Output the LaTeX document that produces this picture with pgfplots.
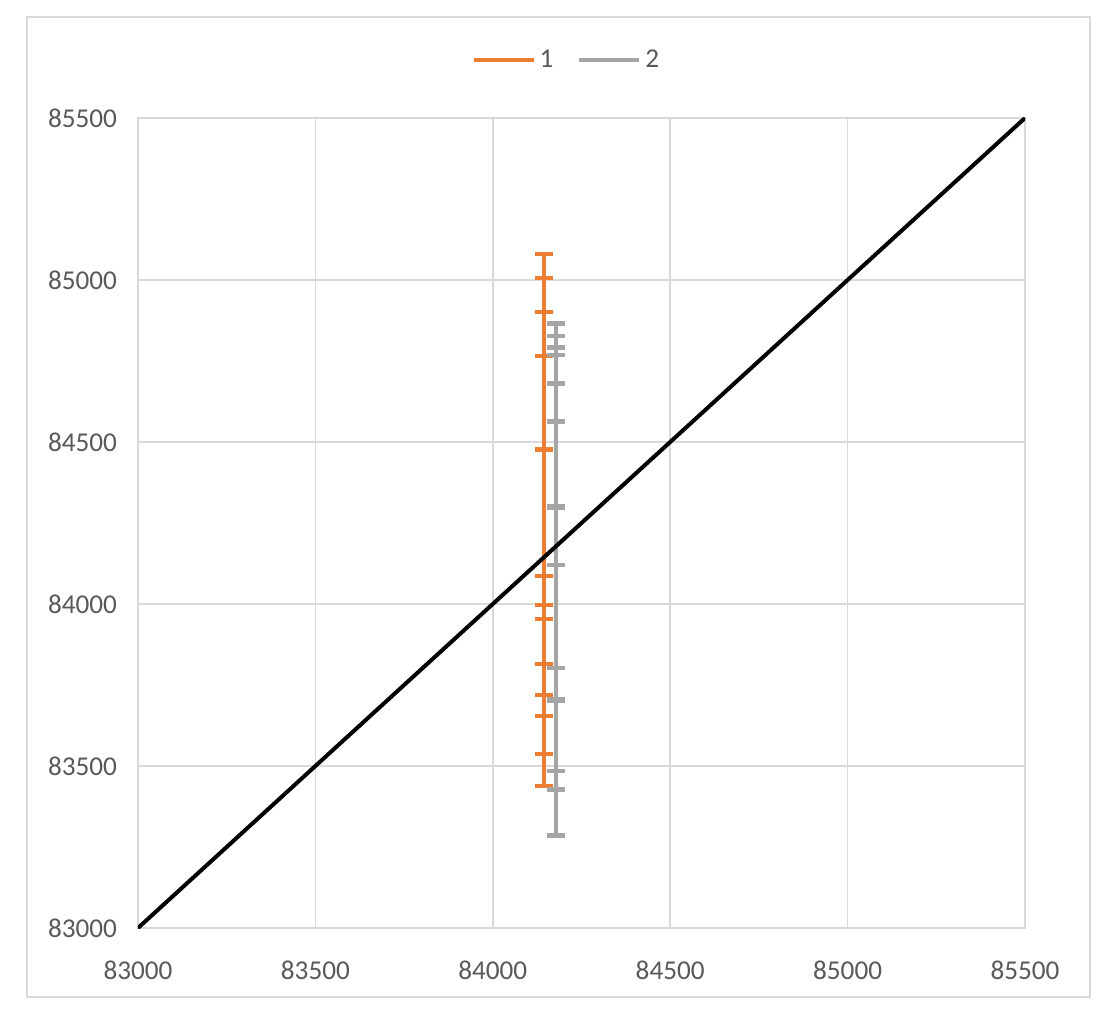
\documentclass[border=0pt]{standalone}
\usepackage{fontspec}
\setmainfont{Carlito}
\usepackage{pgfplots}
\pgfplotsset{compat=1.18}
\definecolor{xlorange}{HTML}{ED7D31}
\definecolor{xlgray}{HTML}{A5A5A5}
\definecolor{xltext}{HTML}{595959}
\definecolor{xlgrid}{HTML}{D9D9D9}

\begin{document}
\begin{tikzpicture}
  % whole chart area, 1px = 0.5pt, origin at the plot's lower left corner
  \path[use as bounding box] (-69pt,-50pt) rectangle (487pt,464pt);
  \draw[xlgrid, line width=0.8pt] (-55.5pt,-34.5pt) rectangle (476pt,455.5pt);
  \begin{axis}[
    at={(0pt,0pt)}, anchor=south west,
    scale only axis,
    width=443.5pt, height=405pt,
    xmin=83000, xmax=85500,
    ymin=83000, ymax=85500,
    xtick={83000,83500,...,85500},
    ytick={83000,83500,...,85500},
    scaled ticks=false,
    /pgf/number format/1000 sep={},
    /pgf/number format/assume math mode=true,
    major tick length=0pt,
    grid=major,
    major grid style={xlgrid, line width=0.8pt},
    axis line style={xlgrid, line width=0.8pt},
    tick label style={font=\fontsize{13.6}{16}\selectfont, text=xltext},
    yticklabel style={xshift=-7pt},
    xticklabel style={yshift=-13pt},
    legend columns=2,
    legend style={draw=none, fill=none, at={(0.484,1.0716)}, anchor=center,
      font=\fontsize{13.6}{16}\selectfont, text=xltext,
      /tikz/every even column/.append style={column sep=10pt}},
    legend image code/.code={
      \draw[mark repeat=2,mark phase=2] plot coordinates {(0pt,0pt)(15pt,0pt)(30pt,0pt)};},
  ]
    \addplot[xlorange, line width=2pt, mark=-, mark size=4.5pt,
      mark options={solid, line width=2.2pt}] coordinates {
      (84144,85080) (84144,85007) (84144,84902) (84144,84765) (84144,84477)
      (84144,84086) (84144,83997) (84144,83953) (84144,83815) (84144,83719)
      (84144,83654) (84144,83537) (84144,83439)
    };
    \addlegendentry{1}
    \addplot[xlgray, line width=2pt, mark=-, mark size=4.5pt,
      mark options={solid, line width=2.2pt}] coordinates {
      (84178,84866) (84178,84828) (84178,84792) (84178,84769) (84178,84681)
      (84178,84563) (84178,84302) (84178,84296) (84178,84121) (84178,83802)
      (84178,83706) (84178,83700) (84178,83485) (84178,83428) (84178,83286)
    };
    \addlegendentry{2}
    \addplot[black, line width=2pt, forget plot] coordinates {
      (83000,83000) (85500,85500)
    };
  \end{axis}
\end{tikzpicture}
\end{document}
